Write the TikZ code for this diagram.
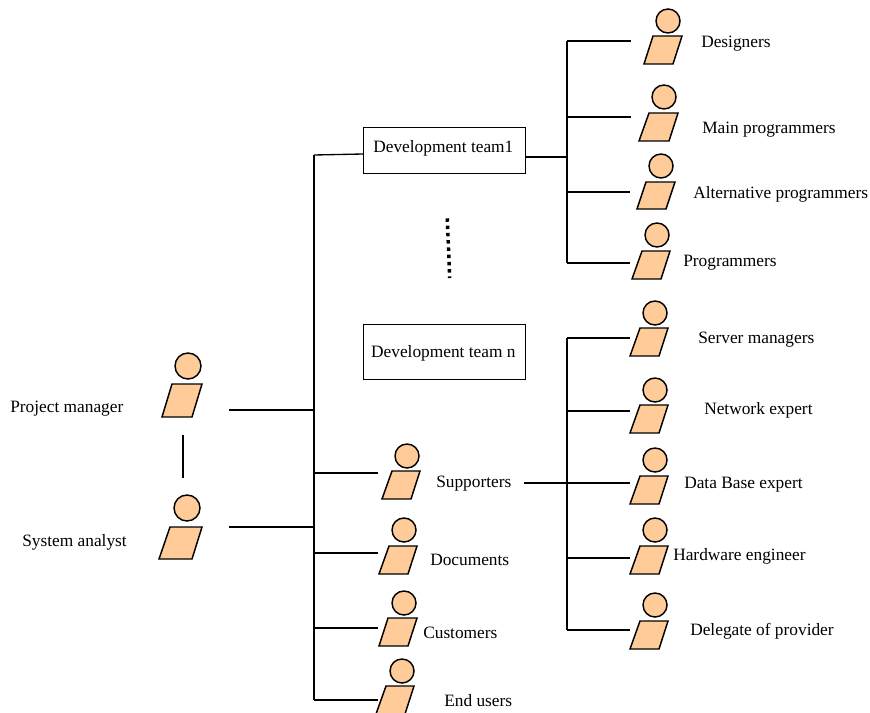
\documentclass[tikz,border=0pt]{standalone}
\usepackage{fontspec}
\setmainfont{Liberation Serif}
\tikzset{
  x=0.75pt,y=-0.75pt,
  figline/.style={draw=black,line width=1.1pt,fill=figfill,line join=miter},
  conn/.style={draw=black,line width=1pt},
  teambox/.style={draw=black,line width=1pt,minimum width=121.5pt,inner sep=0pt,anchor=north west,fill=white,font=\fontsize{13}{15}\selectfont},
  lab/.style={inner sep=0pt,font=\fontsize{13}{15}\selectfont,text=black}
}
\definecolor{figfill}{HTML}{FFCC99}
% name, head x, head y, radius, TL x, TR x, BR x, BL x, top y, bottom y
\newcommand{\personfig}[9]{%
  \node[circle,figline,minimum size=#3*1.5pt,inner sep=0pt] (#1) at (#2) {};
  \draw[figline] (#4,#8) -- (#5,#8) -- (#6,#9) -- (#7,#9) -- cycle;
}
\begin{document}
\begin{tikzpicture}
\clip (0,0) rectangle (870,713);
\useasboundingbox (0,0) rectangle (870,713);
% boxes
\node[teambox,minimum height=34.5pt] (t1) at (363,127) {\raisebox{-1.6pt}[0pt][0pt]{\hspace*{-2pt}Development team1}};
\node[teambox,minimum height=41.25pt] (tn) at (363,324) {\raisebox{-4.2pt}[0pt][0pt]{\hspace*{-2pt}Development team n}};
% coordinates
\coordinate (pmR) at (229,410);
\coordinate (saR) at (229,527);
\coordinate (pmB) at (183,435);
\coordinate (saT) at (183,478);
\coordinate (trA) at (314,155);
\coordinate (trZ) at (314,700);
\coordinate (rtA) at (567,41);
\coordinate (rtZ) at (567,263);
\coordinate (lrA) at (567,338);
\coordinate (lrZ) at (567,630);
\coordinate (dotA) at (447.3,218.3);
\coordinate (dotZ) at (449.7,278);
% connectors
\draw[conn] (pmB) -- (saT);
\draw[conn] (pmR) -- (314,410);
\draw[conn] (saR) -- (314,527);
\draw[conn] (trA) -- (trZ);
\draw[conn] (trA) -- (t1.west |- 0,154);
\draw[conn] (314,473) -- (378,473);
\draw[conn] (314,553) -- (378,553);
\draw[conn] (314,628) -- (378,628);
\draw[conn] (trZ) -- (378,700);
\draw[conn] (t1.east |- 0,157) -- (567,157);
\draw[conn] (rtA) -- (rtZ);
\draw[conn] (rtA) -- (631,41);
\draw[conn] (567,117) -- (631,117);
\draw[conn] (567,192) -- (630,192);
\draw[conn] (rtZ) -- (630,263);
\draw[conn] (lrA) -- (lrZ);
\draw[conn] (lrA) -- (630,338);
\draw[conn] (567,411) -- (630,411);
\draw[conn] (524,483) -- (630,483);
\draw[conn] (567,558) -- (630,558);
\draw[conn] (lrZ) -- (630,630);
\draw[draw=black,line width=2.6pt,dash pattern=on 2.6pt off 2.85pt] (dotA) -- (dotZ);
% figures
\personfig{pm}{188,366}{13}{172}{202}{192}{162}{384}{417}
\personfig{sa}{187,508}{13}{170}{202}{192}{159}{527}{559}
\personfig{des}{668,21}{12}{653}{682}{673}{644}{36}{64}
\personfig{mai}{664,97}{12}{649}{678}{669}{639}{113}{141}
\personfig{alt}{661,166}{12}{646}{675}{666}{637}{182}{209}
\personfig{pro}{657,235}{12}{642}{670}{661}{632}{251}{279}
\personfig{ser}{655,313}{12}{640}{668}{659}{630}{328}{356}
\personfig{net}{655,390}{12}{640}{668}{659}{630}{405}{433}
\personfig{dat}{655,460}{12}{640}{668}{659}{630}{476}{504}
\personfig{har}{655,530}{12}{640}{668}{659}{630}{546}{574}
\personfig{del}{655,605}{12}{640}{668}{659}{630}{621}{649}
\personfig{sup}{407,456}{12}{392}{420}{411}{382}{471}{499}
\personfig{doc}{404,530}{12}{389}{417}{408}{379}{546}{574}
\personfig{cus}{404,603}{12}{388}{417}{408}{379}{618}{646}
\personfig{end}{402,671}{12}{386}{414}{405}{376}{686}{714}
% labels
\node[lab,anchor=west] (lpm) at (10,408.5) {Project manager};
\node[lab,anchor=west] (lsa) at (22,542) {System analyst};
\node[lab,anchor=west] (ldes) at (701,44) {Designers};
\node[lab,anchor=west] (lmai) at (702,130) {Main programmers};
\node[lab,anchor=west] (lalt) at (693,194) {Alternative programmers};
\node[lab,anchor=west] (lpro) at (683,263) {Programmers};
\node[lab,anchor=west] (lser) at (698,340) {Server managers};
\node[lab,anchor=west] (lnet) at (704,410) {Network expert};
\node[lab,anchor=west] (ldat) at (684,485) {Data Base expert};
\node[lab,anchor=west] (lhar) at (673,556) {Hardware engineer};
\node[lab,anchor=west] (ldel) at (690,631) {Delegate of provider};
\node[lab,anchor=west] (lsup) at (436,484) {Supporters};
\node[lab,anchor=west] (ldoc) at (430,560) {Documents};
\node[lab,anchor=west] (lcus) at (423,633) {Customers};
\node[lab,anchor=west] (lend) at (444,701) {End users};
\end{tikzpicture}
\end{document}
